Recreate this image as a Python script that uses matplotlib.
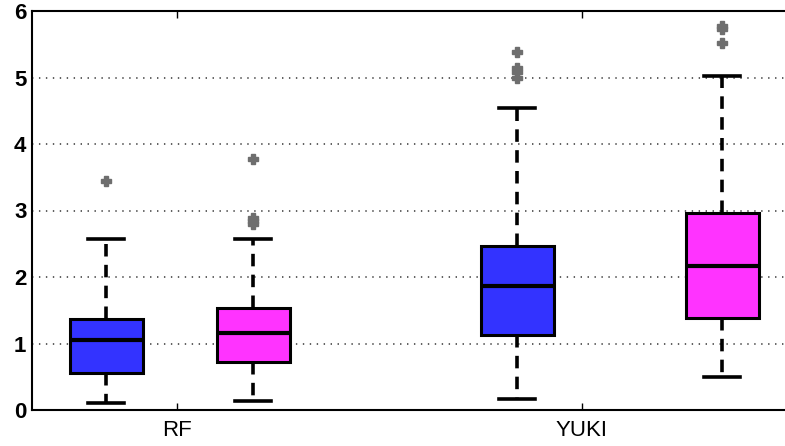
import matplotlib
matplotlib.use("Agg")
import matplotlib.pyplot as plt

# box statistics (whislo, q1, med, q3, whishi, outliers)
groups = ["RF", "YUKI"]
blue_stats = [
    [0.11, 0.56, 1.05, 1.37, 2.57, [3.45]],
    [0.17, 1.13, 1.86, 2.47, 4.54, [4.99, 5.08, 5.14, 5.38]],
]
magenta_stats = [
    [0.14, 0.72, 1.16, 1.54, 2.57, [2.80, 2.84, 2.88, 3.77]],
    [0.50, 1.39, 2.16, 2.96, 5.02, [5.52, 5.73, 5.78]],
]
yticks = [0, 1, 2, 3, 4, 5, 6]

plt.rcParams["font.family"] = ["Liberation Sans", "DejaVu Sans"]
plt.rcParams["lines.scale_dashes"] = False

fig = plt.figure(figsize=(7.85, 4.46), dpi=100)
# x axis in pixel units so box positions match the picture
ax = fig.add_axes([32 / 785, 36 / 446, (800 - 32) / 785, 399 / 446])

pos_blue = [106, 517]
pos_mag = [253, 722]
tick_pos = [177, 582]


def to_stats(rows):
    out = []
    for lo, q1, med, q3, hi, fl in rows:
        out.append(dict(whislo=lo, q1=q1, med=med, q3=q3, whishi=hi, fliers=fl))
    return out


for rows, pos, col in [(blue_stats, pos_blue, "#3333ff"), (magenta_stats, pos_mag, "#ff33ff")]:
    ax.bxp(to_stats(rows), positions=pos, widths=73, patch_artist=True,
           boxprops=dict(facecolor=col, edgecolor="black", linewidth=2.2),
           medianprops=dict(color="black", linewidth=3),
           whiskerprops=dict(color="black", linewidth=2.6, linestyle=(0, (9, 6))),
           capprops=dict(color="black", linewidth=2.6),
           capwidths=36,
           flierprops=dict(marker="P", markerfacecolor="#6e6e6e", markeredgecolor="#6e6e6e",
                           markersize=6.5, linestyle="none"),
           zorder=3)

ax.set_xlim(32, 800)
ax.set_ylim(0, 6)
ax.set_yticks(yticks)
ax.set_yticklabels([str(t) for t in yticks])
ax.set_xticks(tick_pos)
ax.set_xticklabels(groups)
ax.tick_params(direction="in", top=True, length=5, width=1, pad=3)
ax.tick_params(axis="x", pad=7)
ax.tick_params(axis="y", length=0, pad=4)
for lab in ax.get_yticklabels():
    lab.set_fontsize(16)
    lab.set_fontweight("bold")
for lab in ax.get_xticklabels():
    lab.set_fontsize(16)
ax.yaxis.grid(True, linestyle=(0, (1, 4)), color="#444444", linewidth=1.2)
ax.set_axisbelow(True)
ax.spines["right"].set_visible(False)
for s in ["left", "bottom", "top"]:
    ax.spines[s].set_linewidth(1.5)

fig.savefig("out.png", dpi=100)
